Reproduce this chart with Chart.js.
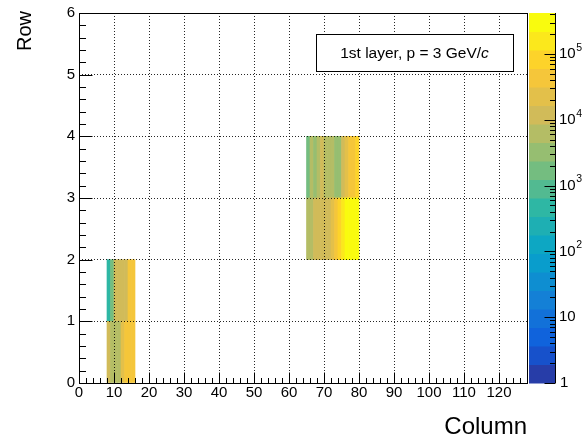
<!DOCTYPE html>
<html>
<head>
<meta charset="utf-8">
<script src="https://cdn.jsdelivr.net/npm/chart.js@4.4.1/dist/chart.umd.min.js"></script>
<style>
	html, body { margin: 0; padding: 0; background: #fff; }
	canvas { display: block; }
</style>
</head>
<body>
<canvas id="hitmap" width="585" height="439"></canvas>
<script>
// hits per pixel, first layer, 3 GeV/c beam
const colsLeft = [8, 9, 10, 11, 12, 13, 14, 15]
const hitsRow0 = [12000, 7000, 6000, 5500, 20000, 40000, 50000, 45000]
const hitsRow1 = [500, 2000, 12000, 10000, 11000, 14000, 40000, 45000]

const colsRight = [65, 66, 67, 68, 69, 70, 71, 72, 73, 74, 75, 76, 77, 78, 79]
const hitsRow2 = [6000, 7000, 12000, 10000, 13000, 15000, 12000, 25000, 45000, 80000, 180000, 300000, 420000, 350000, 300000]
const hitsRow3 = [2000, 8000, 3500, 7000, 13000, 6000, 5500, 7500, 4000, 3000, 12000, 20000, 40000, 50000, 70000]

const colMax = 128
const rowMax = 6
const zMin = 1
const zMax = 420000
const zLabelPowers = [0, 1, 2, 3, 4, 5]

const FONT = "'Liberation Sans', Arial, Helvetica, sans-serif"
const nContours = 20

// ROOT kBird palette
const birdStops = [0.0, 0.125, 0.25, 0.375, 0.5, 0.625, 0.75, 0.875, 1.0]
const birdR = [0.2082, 0.0592, 0.0780, 0.0232, 0.1802, 0.5301, 0.8186, 0.9956, 0.9764]
const birdG = [0.1664, 0.3599, 0.5041, 0.6419, 0.7178, 0.7492, 0.7328, 0.7862, 0.9832]
const birdB = [0.5293, 0.8684, 0.8385, 0.7914, 0.6425, 0.4662, 0.3499, 0.1968, 0.0539]

function birdColor(f) {
	let i = 0
	while (i < birdStops.length - 2 && f > birdStops[i + 1]) i++
	const t = (f - birdStops[i]) / (birdStops[i + 1] - birdStops[i])
	const c = arr => Math.round(255 * (arr[i] + (arr[i + 1] - arr[i]) * t))
	return `rgb(${c(birdR)},${c(birdG)},${c(birdB)})`
}

function levelColor(level) {
	const k = Math.floor((level + 0.99) * 255 / nContours)
	return birdColor(k / 254)
}

function levelOf(v) {
	const f = Math.log10(v / zMin) / Math.log10(zMax / zMin)
	return Math.max(0, Math.min(nContours - 1, Math.floor(nContours * f)))
}

function cells(cols, hits, row) {
	return cols.map((c, i) => ({ x: c + 0.5, y: [row, row + 1], v: hits[i] }))
}

function rowDataset(name, cols, hits, row) {
	return {
		label: name,
		data: cells(cols, hits, row),
		backgroundColor: hits.map(v => levelColor(levelOf(v))),
		borderWidth: 0,
	}
}

const rootDecor = {
	id: 'rootDecor',
	afterDraw(chart) {
		const { ctx, chartArea: a, scales } = chart
		const x = scales.x, y = scales.y, z = scales.z
		const al = p => Math.round(p) + 0.5
		ctx.save()
		ctx.strokeStyle = '#000'
		ctx.lineWidth = 1

		// tick marks inside the frame
		ctx.beginPath()
		for (let v = 0; v < colMax; v += 2) {
			const px = al(x.getPixelForValue(v))
			const len = v % 10 === 0 ? 11 : 5.5
			ctx.moveTo(px, al(a.bottom))
			ctx.lineTo(px, al(a.bottom) - len)
		}
		for (let i = 0; i <= rowMax * 5; i++) {
			const py = al(y.getPixelForValue(i / 5))
			const len = i % 5 === 0 ? 13 : 6.5
			ctx.moveTo(al(a.left), py)
			ctx.lineTo(al(a.left) + len, py)
		}
		ctx.stroke()
		ctx.strokeRect(al(a.left), al(a.top), Math.round(a.right) - Math.round(a.left), Math.round(a.bottom) - Math.round(a.top))

		// colour palette
		const pl = Math.round(a.right) + 2
		const pr = Math.round(a.right) + 28
		const lz0 = Math.log10(zMin), lz1 = Math.log10(zMax)
		for (let i = 0; i < nContours; i++) {
			const y0 = z.getPixelForValue(Math.pow(10, lz0 + (lz1 - lz0) * i / nContours))
			const y1 = z.getPixelForValue(Math.pow(10, lz0 + (lz1 - lz0) * (i + 1) / nContours))
			ctx.fillStyle = levelColor(i)
			ctx.fillRect(pl, y1, pr - pl, y0 - y1 + 0.5)
		}
		ctx.beginPath()
		ctx.moveTo(pr + 0.5, z.top)
		ctx.lineTo(pr + 0.5, z.bottom)
		for (let d = 0; d <= 5; d++) {
			for (let m = 1; m <= 9; m++) {
				const v = m * Math.pow(10, d)
				if (v > zMax) break
				const py = al(z.getPixelForValue(v))
				ctx.moveTo(pr + 0.5, py)
				ctx.lineTo(pr + 0.5 - (m === 1 ? 11 : 5.5), py)
			}
		}
		ctx.stroke()

		ctx.fillStyle = '#000'
		ctx.textBaseline = 'middle'
		ctx.textAlign = 'left'
		for (const p of zLabelPowers) {
			const py = z.getPixelForValue(Math.pow(10, p))
			const lx = pr + 4
			ctx.font = `15px ${FONT}`
			if (p === 0) {
				ctx.fillText('1', lx + 1, py)
			} else {
				ctx.fillText('10', lx, py)
				if (p > 1) {
					const w = ctx.measureText('10').width
					ctx.font = `10.5px ${FONT}`
					ctx.fillText(String(p), lx + w + 0.5, py - 6)
				}
			}
		}

		// label box
		const bx = 316, by = 34, bw = 197, bh = 37
		ctx.fillStyle = '#fff'
		ctx.fillRect(bx, by, bw, bh)
		ctx.strokeRect(bx + 0.5, by + 0.5, bw, bh)
		ctx.fillStyle = '#000'
		const plain = '1st layer, p = 3 GeV/'
		ctx.font = `15.5px ${FONT}`
		const w1 = ctx.measureText(plain).width
		ctx.font = `italic 15.5px ${FONT}`
		const w2 = ctx.measureText('c').width
		const tx = bx + bw / 2 - (w1 + w2) / 2
		const ty = by + bh / 2 + 1
		ctx.font = `15.5px ${FONT}`
		ctx.fillText(plain, tx, ty)
		ctx.font = `italic 15.5px ${FONT}`
		ctx.fillText('c', tx + w1, ty)

		// axis titles
		ctx.textBaseline = 'alphabetic'
		ctx.font = `24px ${FONT}`
		ctx.textAlign = 'right'
		ctx.fillText('Column', a.right, 434)
		ctx.save()
		ctx.translate(31, a.top - 2)
		ctx.rotate(-Math.PI / 2)
		ctx.font = `20px ${FONT}`
		ctx.textAlign = 'right'
		ctx.fillText('Row', 0, 0)
		ctx.restore()

		ctx.restore()
	}
}

const gridStyle = { color: 'rgba(0,0,0,0.85)', lineWidth: 1, drawTicks: false, z: 1, offset: false }
const borderStyle = { display: false, dash: [1, 2] }
const tickFont = { family: FONT, size: 15 }

new Chart(document.getElementById('hitmap'), {
	type: 'bar',
	data: {
		datasets: [
			rowDataset('row 0', colsLeft, hitsRow0, 0),
			rowDataset('row 1', colsLeft, hitsRow1, 1),
			rowDataset('row 2', colsRight, hitsRow2, 2),
			rowDataset('row 3', colsRight, hitsRow3, 3),
		],
	},
	options: {
		responsive: false,
		animation: false,
		events: [],
		layout: { padding: { left: 0, right: 58, top: 10, bottom: 0 } },
		datasets: {
			bar: {
				grouped: false,
				barPercentage: 1,
				categoryPercentage: 1,
			},
		},
		plugins: {
			colors: { enabled: false },
			legend: { display: false },
			tooltip: { enabled: false },
		},
		scales: {
			x: {
				type: 'linear',
				min: 0,
				max: colMax,
				offset: false,
				grid: gridStyle,
				border: borderStyle,
				ticks: { stepSize: 10, includeBounds: false, autoSkip: false, maxRotation: 0, padding: 1, color: '#000', font: tickFont },
				afterFit: s => { s.height = 56 },
			},
			y: {
				type: 'linear',
				min: 0,
				max: rowMax,
				grid: gridStyle,
				border: borderStyle,
				ticks: { stepSize: 1, autoSkip: false, padding: 4, color: '#000', font: tickFont },
				afterFit: s => { s.width = 79 },
			},
			z: {
				type: 'logarithmic',
				position: 'right',
				display: false,
				min: zMin,
				max: zMax,
			},
		},
	},
	plugins: [rootDecor],
})
</script>
</body>
</html>
